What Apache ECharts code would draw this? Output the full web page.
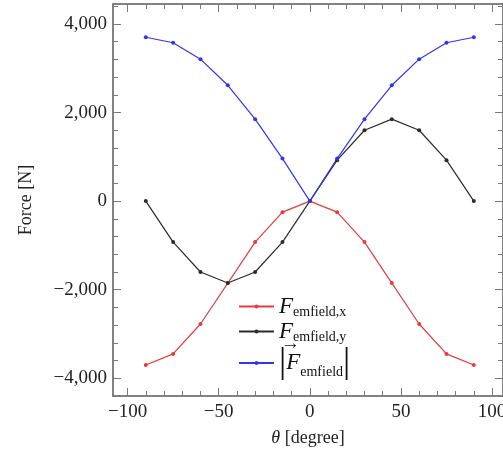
<!DOCTYPE html>
<html>
<head>
<meta charset="utf-8">
<script src="https://cdn.jsdelivr.net/npm/echarts@6/dist/echarts.min.js"></script>
<style>
html,body{margin:0;padding:0;background:#fff;}
#chart{width:503px;height:454px;}
</style>
</head>
<body>
<div id="chart"></div>
<script>
// Electromagnetic field force components versus angle
const theta = [-90, -75, -60, -45, -30, -15, 0, 15, 30, 45, 60, 75, 90];
const forceX = [-3700, -3450, -2775, -1850, -925, -250, 0, -250, -925, -1850, -2775, -3450, -3700];
const forceY = [0, -925, -1600, -1850, -1600, -925, 0, 925, 1600, 1850, 1600, 925, 0];
const forceMag = [3700, 3575, 3205, 2615, 1850, 960, 0, 960, 1850, 2615, 3205, 3575, 3700];

const xMajor = [-100, -50, 0, 50, 100];
const xMinor = [-100, -90, -80, -70, -60, -50, -40, -30, -20, -10, 0, 10, 20, 30, 40, 50, 60, 70, 80, 90, 100];
const yMajor = [-4000, -2000, 0, 2000, 4000];
const yMinor = [-4400, -4000, -3600, -3200, -2800, -2400, -2000, -1600, -1200, -800, -400, 0, 400, 800, 1200, 1600, 2000, 2400, 2800, 3200, 3600, 4000, 4400];

const seriesNames = ['Fx', 'Fy', 'Fmag'];
const colors = ['#e23c3c', '#2b2b2b', '#3434ee'];

const FONT = 'Liberation Serif';
const FRAME = '#7a7a7a';

function fmt(v) {
  const s = Math.abs(v).toString().replace(/\B(?=(\d{3})+(?!\d))/g, ',');
  return (v < 0 ? '\u2212' : '') + s;
}

function pairs(ys) { return theta.map((t, i) => [t, ys[i]]); }

const X_MIN = -108, X_MAX = 106, Y_MIN = -4400, Y_MAX = 4450;

function xAx(pos, ticks, len, withLabel, withName) {
  return {
    type: 'value', position: pos, min: X_MIN, max: X_MAX,
    axisLine: { show: true, onZero: false, lineStyle: { color: FRAME, width: 1.5 } },
    axisTick: { show: true, inside: true, length: len, customValues: ticks, lineStyle: { color: FRAME, width: 1 } },
    axisLabel: withLabel ? { show: true, customValues: xMajor, formatter: fmt, fontFamily: FONT, fontSize: 19, color: '#222', margin: 7 } : { show: false },
    splitLine: { show: false },
    name: withName ? '{i|θ} [degree]' : '',
    nameLocation: 'middle', nameGap: 33,
    nameTextStyle: { fontFamily: FONT, fontSize: 18, color: '#222', rich: { i: { fontFamily: FONT, fontStyle: 'italic', fontSize: 18, color: '#222' } } }
  };
}
function yAx(pos, ticks, len, withLabel, withName) {
  return {
    type: 'value', position: pos, min: Y_MIN, max: Y_MAX,
    axisLine: { show: true, onZero: false, lineStyle: { color: FRAME, width: 1.5 } },
    axisTick: { show: true, inside: true, length: len, customValues: ticks, lineStyle: { color: FRAME, width: 1 } },
    axisLabel: withLabel ? { show: true, customValues: yMajor, formatter: fmt, fontFamily: FONT, fontSize: 19, color: '#222', margin: 6 } : { show: false },
    splitLine: { show: false },
    name: withName ? 'Force [N]' : '',
    nameLocation: 'middle', nameGap: 78,
    nameTextStyle: { fontFamily: FONT, fontSize: 18, color: '#222' }
  };
}

const legendText = {
  Fx: '{F|F}{sub|emfield,x}',
  Fy: '{F|F}{sub|emfield,y}',
  Fmag: '{bar||}{F|F}{sub|emfield}{bar||}'
};

const chart = echarts.init(document.getElementById('chart'), null, { renderer: 'canvas' });
chart.setOption({
  animation: false,
  backgroundColor: '#fff',
  grid: { left: 113, right: 0, top: 4, bottom: 58, containLabel: false, outerBoundsMode: 'none' },
  xAxis: [
    xAx('bottom', xMajor, 8, true, true),
    xAx('bottom', xMinor, 5, false, false),
    xAx('top', xMajor, 8, false, false),
    xAx('top', xMinor, 5, false, false)
  ],
  yAxis: [
    yAx('left', yMajor, 8, true, true),
    yAx('left', yMinor, 5, false, false),
    yAx('right', yMajor, 8, false, false),
    yAx('right', yMinor, 5, false, false)
  ],
  legend: {
    orient: 'vertical', left: 233, top: 290, padding: 5,
    itemWidth: 35, itemHeight: 5, itemGap: 1,
    data: seriesNames,
    formatter: n => legendText[n],
    textStyle: {
      fontFamily: FONT, color: '#111',
      rich: {
        F: { fontFamily: FONT, fontStyle: 'italic', fontSize: 23, lineHeight: 25, color: '#111' },
        sub: { fontFamily: FONT, fontSize: 14, lineHeight: 14, verticalAlign: 'bottom', padding: [9, 0, 0, 0], color: '#111' },
        bar: { fontFamily: FONT, fontSize: 36, lineHeight: 32, color: '#111' }
      }
    }
  },
  graphic: [{
    type: 'text', left: 281, top: 335,
    style: { text: '\u2192', font: '19px "Liberation Serif"', fill: '#111' }
  }],
  series: [forceX, forceY, forceMag].map((d, i) => ({
    name: seriesNames[i],
    type: 'line',
    data: pairs(d),
    symbol: 'circle', symbolSize: 4, showSymbol: true,
    itemStyle: { color: colors[i] },
    lineStyle: { color: colors[i], width: 1.2 },
    xAxisIndex: 0, yAxisIndex: 0
  }))
});
</script>
</body>
</html>
